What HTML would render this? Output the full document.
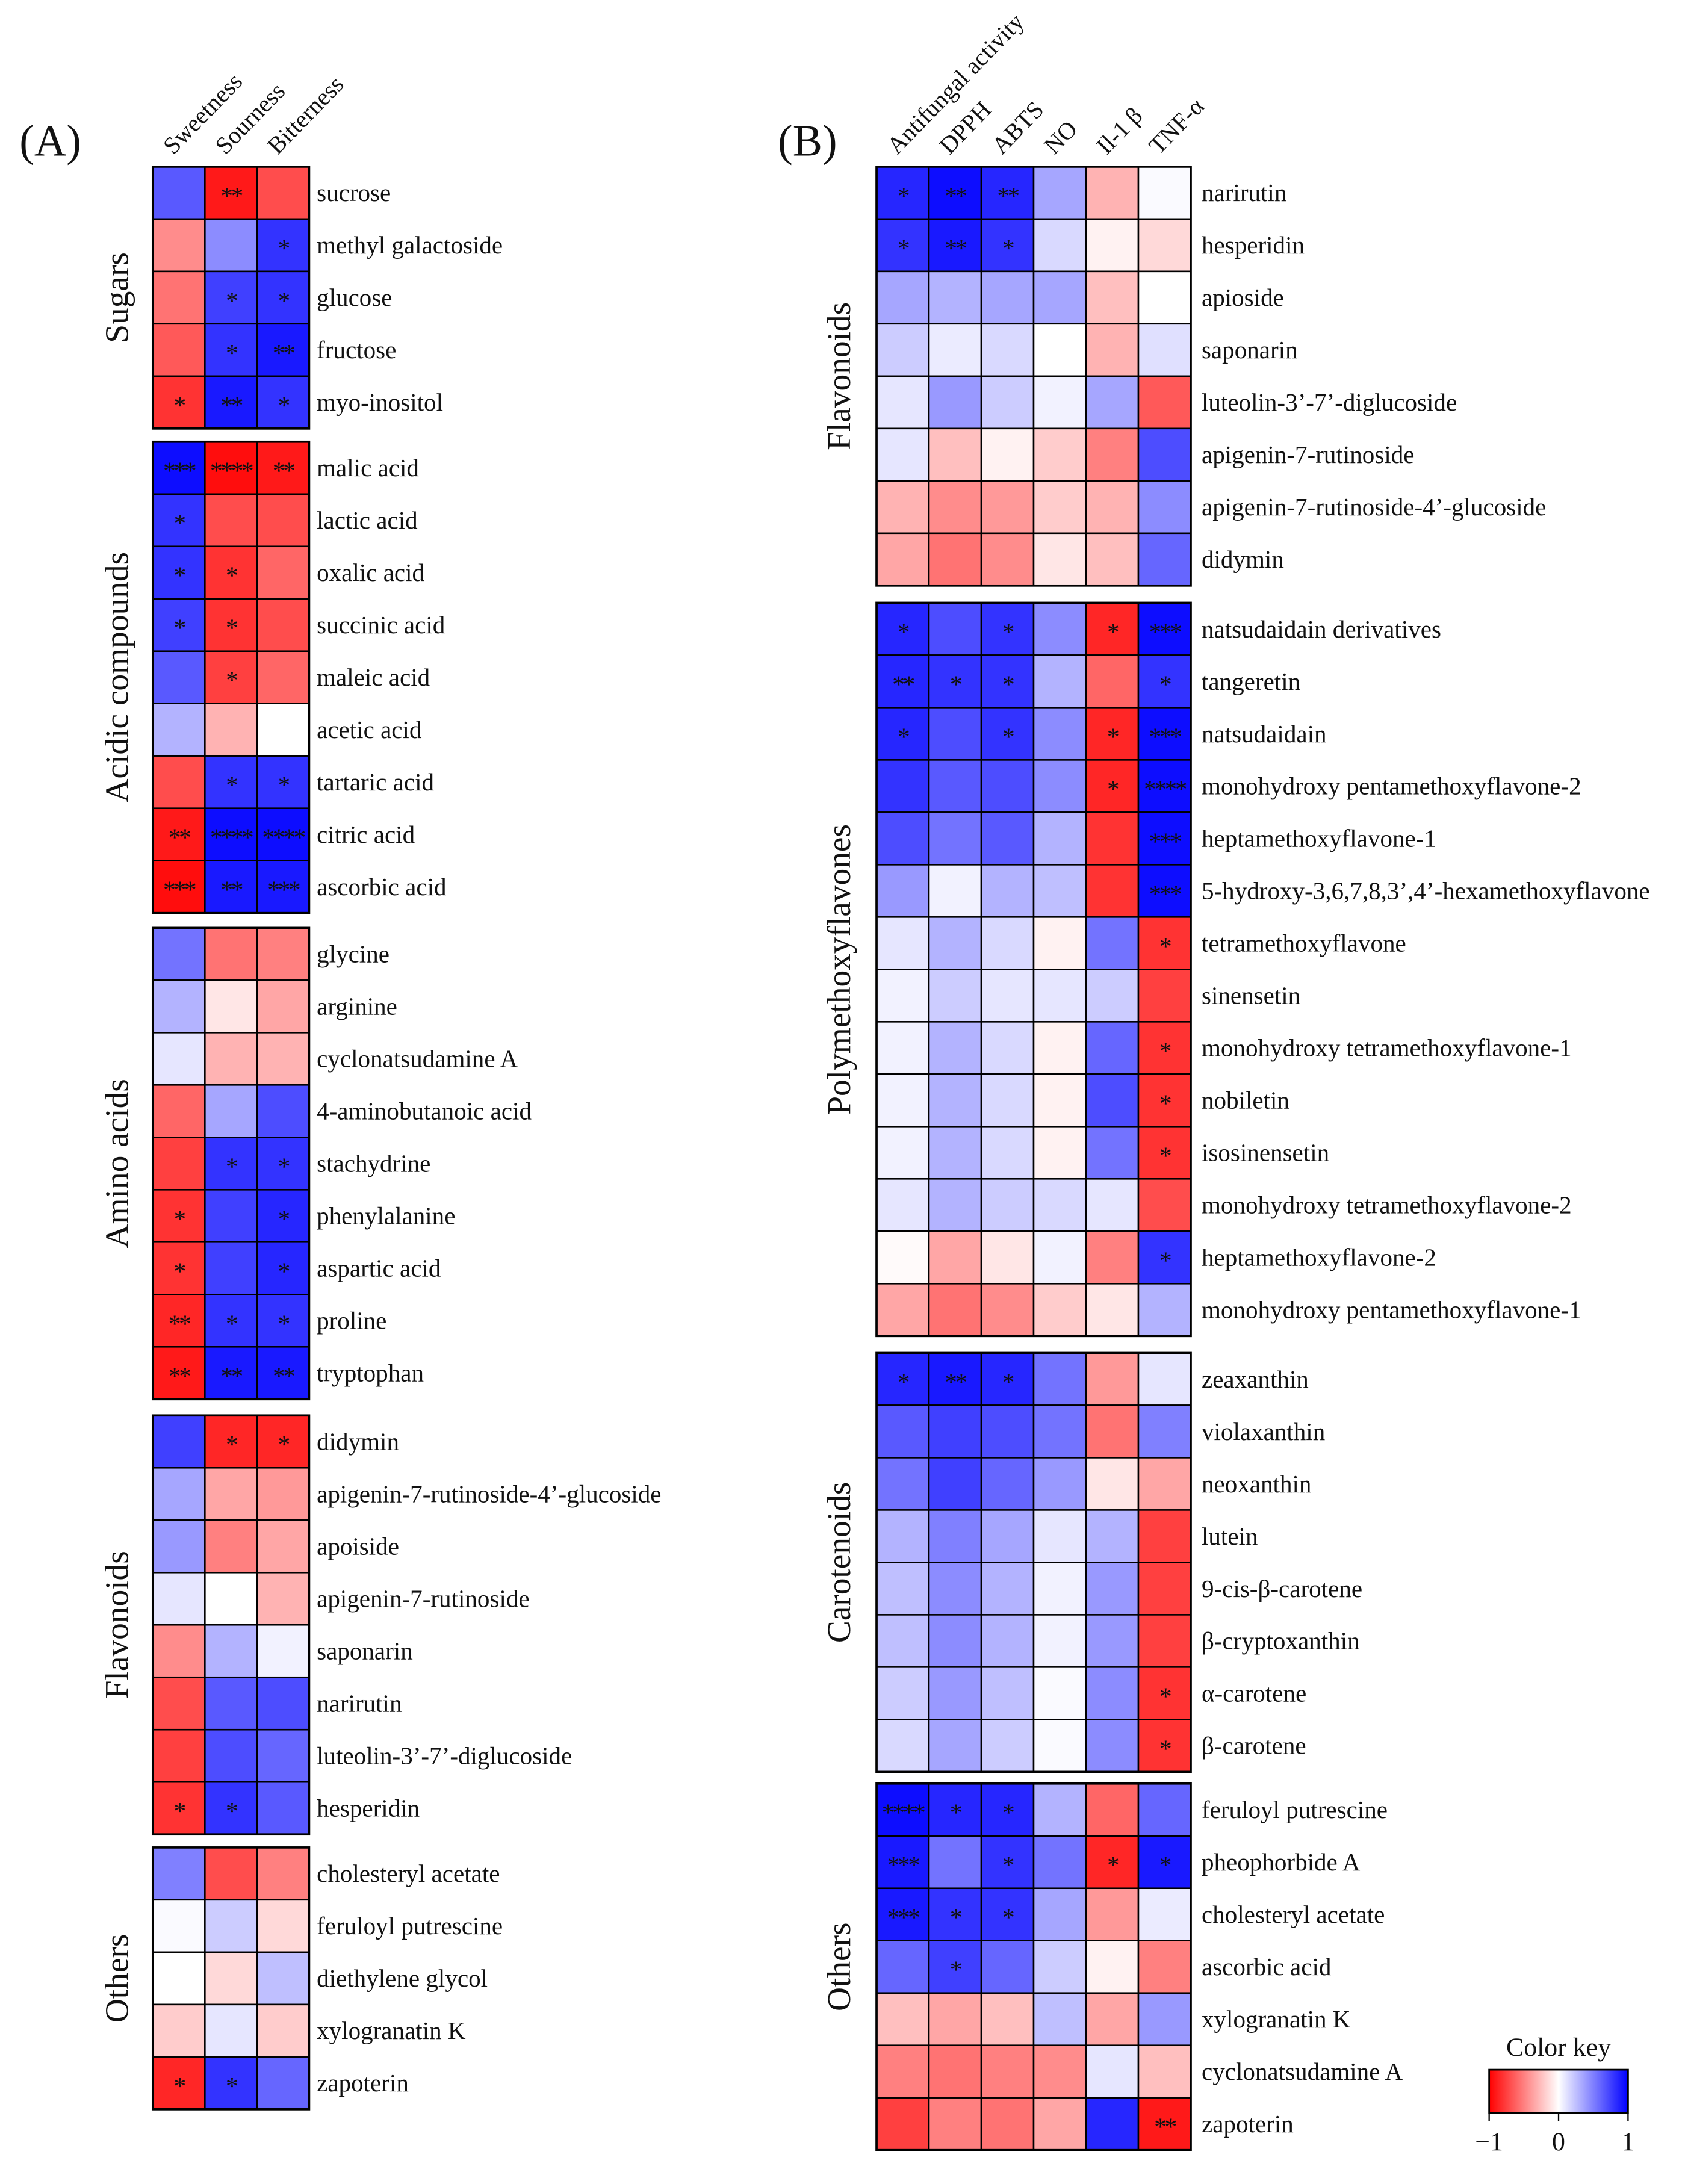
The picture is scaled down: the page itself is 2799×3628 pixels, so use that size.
<!DOCTYPE html>
<html><head><meta charset="utf-8">
<style>
html,body{margin:0;padding:0;background:#fff;}
svg{display:block;}
text{font-family:"Liberation Serif",serif;fill:#111;}
</style></head>
<body>
<svg id="fig" width="2799" height="3628" viewBox="0 0 1213 1572.3" preserveAspectRatio="none" xmlns="http://www.w3.org/2000/svg">
<defs>
<linearGradient id="ck" x1="0" x2="1" y1="0" y2="0">
<stop offset="0" stop-color="#ff0000"/><stop offset="0.5" stop-color="#ffffff"/><stop offset="1" stop-color="#0000ff"/>
</linearGradient>
</defs>
<text x="14" y="112" font-size="32">(A)</text>
<text x="560" y="112" font-size="32">(B)</text>
<g id="gA"></g>
<g id="gB"></g>
<g>
<text x="1122" y="1480" font-size="19" text-anchor="middle">Color key</text>
<rect x="1072" y="1490" width="100" height="31" fill="url(#ck)" stroke="#000" stroke-width="1.2"/>
<line x1="1072" y1="1521" x2="1072" y2="1527" stroke="#000"/><line x1="1122" y1="1521" x2="1122" y2="1527" stroke="#000"/><line x1="1172" y1="1521" x2="1172" y2="1527" stroke="#000"/>
<text x="1072" y="1548" font-size="19" text-anchor="middle">−1</text>
<text x="1122" y="1548" font-size="19" text-anchor="middle">0</text>
<text x="1172" y="1548" font-size="19" text-anchor="middle">1</text>
</g>
</svg>
<script>
const colsA = ["Sweetness","Sourness","Bitterness"];
const groupsA = ["Sugars","Acidic compounds","Amino acids","Flavonoids","Others"];
const rowsA = [
["sucrose","methyl galactoside","glucose","fructose","myo-inositol"],
["malic acid","lactic acid","oxalic acid","succinic acid","maleic acid","acetic acid","tartaric acid","citric acid","ascorbic acid"],
["glycine","arginine","cyclonatsudamine A","4-aminobutanoic acid","stachydrine","phenylalanine","aspartic acid","proline","tryptophan"],
["didymin","apigenin-7-rutinoside-4’-glucoside","apoiside","apigenin-7-rutinoside","saponarin","narirutin","luteolin-3’-7’-diglucoside","hesperidin"],
["cholesteryl acetate","feruloyl putrescine","diethylene glycol","xylogranatin K","zapoterin"]];
const valsA = [
[[.65,-.9,-.7],[-.45,.45,.8],[-.55,.75,.8],[-.65,.8,.9],[-.8,.9,.8]],
[[.95,-.95,-.9],[.8,-.7,-.7],[.8,-.8,-.6],[.75,-.8,-.7],[.65,-.75,-.6],[.3,-.3,0],[-.7,.8,.8],[-.9,.95,.95],[-.95,.9,.9]],
[[.55,-.55,-.5],[.3,-.1,-.35],[.1,-.3,-.3],[-.6,.35,.7],[-.75,.8,.8],[-.8,.75,.85],[-.8,.75,.85],[-.85,.8,.8],[-.9,.9,.9]],
[[.75,-.85,-.85],[.35,-.35,-.4],[.4,-.5,-.35],[.1,0,-.3],[-.45,.3,.05],[-.7,.65,.7],[-.75,.7,.6],[-.8,.8,.65]],
[[.5,-.7,-.5],[.02,.2,-.15],[0,-.15,.25],[-.2,.1,-.2],[-.85,.8,.6]]];
const sigA = [
[["","**",""],["","","*"],["","*","*"],["","*","**"],["*","**","*"]],
[["***","****","**"],["*","",""],["*","*",""],["*","*",""],["","*",""],["","",""],["","*","*"],["**","****","****"],["***","**","***"]],
[["","",""],["","",""],["","",""],["","",""],["","*","*"],["*","","*"],["*","","*"],["**","*","*"],["**","**","**"]],
[["","*","*"],["","",""],["","",""],["","",""],["","",""],["","",""],["","",""],["*","*",""]],
[["","",""],["","",""],["","",""],["","",""],["*","*",""]]];
const topsA = [120,318,668,1019,1330];

const colsB = ["Antifungal activity","DPPH","ABTS","NO","Il-1 β","TNF-α"];
const groupsB = ["Flavonoids","Polymethoxyflavones","Carotenoids","Others"];
const rowsB = [
["narirutin","hesperidin","apioside","saponarin","luteolin-3’-7’-diglucoside","apigenin-7-rutinoside","apigenin-7-rutinoside-4’-glucoside","didymin"],
["natsudaidain derivatives","tangeretin","natsudaidain","monohydroxy pentamethoxyflavone-2","heptamethoxyflavone-1","5-hydroxy-3,6,7,8,3’,4’-hexamethoxyflavone","tetramethoxyflavone","sinensetin","monohydroxy tetramethoxyflavone-1","nobiletin","isosinensetin","monohydroxy tetramethoxyflavone-2","heptamethoxyflavone-2","monohydroxy pentamethoxyflavone-1"],
["zeaxanthin","violaxanthin","neoxanthin","lutein","9-cis-β-carotene","β-cryptoxanthin","α-carotene","β-carotene"],
["feruloyl putrescine","pheophorbide A","cholesteryl acetate","ascorbic acid","xylogranatin K","cyclonatsudamine A","zapoterin"]];
const valsB = [
[[.85,.95,.85,.35,-.3,.02],[.8,.9,.8,.15,-.05,-.15],[.35,.3,.35,.35,-.25,0],[.2,.08,.15,0,-.3,.12],[.1,.4,.2,.05,.35,-.65],[.1,-.25,-.05,-.2,-.5,.7],[-.3,-.45,-.4,-.2,-.3,.45],[-.35,-.55,-.45,-.1,-.25,.6]],
[[.85,.7,.8,.45,-.85,.95],[.85,.8,.8,.3,-.6,.8],[.85,.7,.8,.45,-.85,.95],[.8,.65,.7,.45,-.85,.95],[.7,.55,.65,.3,-.8,.95],[.4,.05,.3,.25,-.8,.95],[.1,.3,.15,-.05,.55,-.8],[.05,.2,.1,.1,.2,-.75],[.05,.3,.15,-.05,.6,-.8],[.05,.3,.15,-.05,.7,-.8],[.05,.3,.15,-.05,.55,-.8],[.1,.3,.2,.15,.1,-.7],[-.02,-.35,-.1,.05,-.5,.8],[-.35,-.55,-.45,-.2,-.1,.3]],
[[.85,.9,.85,.55,-.4,.1],[.65,.75,.7,.55,-.55,.5],[.55,.75,.6,.4,-.1,-.35],[.3,.5,.35,.1,.3,-.75],[.25,.45,.3,.05,.4,-.75],[.25,.45,.3,.05,.4,-.75],[.2,.4,.25,.02,.45,-.8],[.15,.35,.2,.02,.45,-.8]],
[[.95,.85,.85,.3,-.6,.6],[.9,.55,.8,.55,-.85,.9],[.9,.8,.8,.35,-.4,.08],[.6,.75,.6,.2,-.05,-.5],[-.25,-.35,-.25,.25,-.35,.4],[-.5,-.55,-.5,-.45,.1,-.25],[-.75,-.5,-.55,-.35,.85,-.9]]];
const sigB = [
[["*","**","**","","",""],["*","**","*","","",""],["","","","","",""],["","","","","",""],["","","","","",""],["","","","","",""],["","","","","",""],["","","","","",""]],
[["*","","*","","*","***"],["**","*","*","","","*"],["*","","*","","*","***"],["","","","","*","****"],["","","","","","***"],["","","","","","***"],["","","","","","*"],["","","","","",""],["","","","","","*"],["","","","","","*"],["","","","","","*"],["","","","","",""],["","","","","","*"],["","","","","",""]],
[["*","**","*","","",""],["","","","","",""],["","","","","",""],["","","","","",""],["","","","","",""],["","","","","",""],["","","","","","*"],["","","","","","*"]],
[["****","*","*","","",""],["***","","*","","*","*"],["***","*","*","","",""],["","*","","","",""],["","","","","",""],["","","","","",""],["","","","","","**"]]];
const topsB = [120,434,974,1284];

const NS="http://www.w3.org/2000/svg";
function color(v){
  v=Math.max(-1,Math.min(1,v));
  const t=Math.abs(v);
  const k=Math.round(255*(1-t));
  return v>=0?`rgb(${k},${k},255)`:`rgb(255,${k},${k})`;
}
function mk(tag,attrs,parent){const e=document.createElementNS(NS,tag);for(const a in attrs)e.setAttribute(a,attrs[a]);parent.appendChild(e);return e;}

function panel(g,cols,groups,rows,vals,sigs,tops,x0,cw,rh,labelX,groupX,hdrY){
  cols.forEach((c,j)=>{
    const cx=x0+cw*(j+0.5)-4;
    const t=mk('text',{x:cx,y:hdrY,'font-size':17.5,transform:`rotate(-46 ${cx} ${hdrY})`},g);
    
    
    t.textContent=c;
  });
  groups.forEach((gn,gi)=>{
    const top=tops[gi];
    const n=rows[gi].length;
    const gg=mk('g',{},g);
    
    
    const cy=top+n*rh/2;
    const gt=mk('text',{x:groupX,y:cy,'font-size':24,'text-anchor':'middle',transform:`rotate(-90 ${groupX} ${cy})`},gg);
    
    
    gt.textContent=gn;
    rows[gi].forEach((rn,i)=>{
      const y=top+i*rh;
      vals[gi][i].forEach((v,j)=>{
        const r=mk('rect',{x:x0+j*cw,y:y,width:cw,height:rh,fill:color(v),stroke:'#000','stroke-width':1.1},gg);
        
        
        const s=sigs[gi][i][j];
        if(s){
          const st=mk('text',{x:x0+j*cw+cw/2,y:y+rh/2+8,'font-size':18,'text-anchor':'middle','letter-spacing':'-1.5'},gg);
          
          
          st.textContent=s;
        }
      });
      const lt=mk('text',{x:labelX,y:y+rh/2+6,'font-size':17.8},gg);
      
      
      lt.textContent=rn;
    });
    mk('rect',{x:x0,y:top,width:cw*cols.length,height:n*rh,fill:'none',stroke:'#000','stroke-width':1.6},gg);
  });
}
panel(document.getElementById('gA'),colsA,groupsA,rowsA,valsA,sigA,topsA,110,37.5,37.7,228,92,112);
panel(document.getElementById('gB'),colsB,groupsB,rowsB,valsB,sigB,topsB,631,37.7,37.7,865,612,112);
</script>
</body></html>
